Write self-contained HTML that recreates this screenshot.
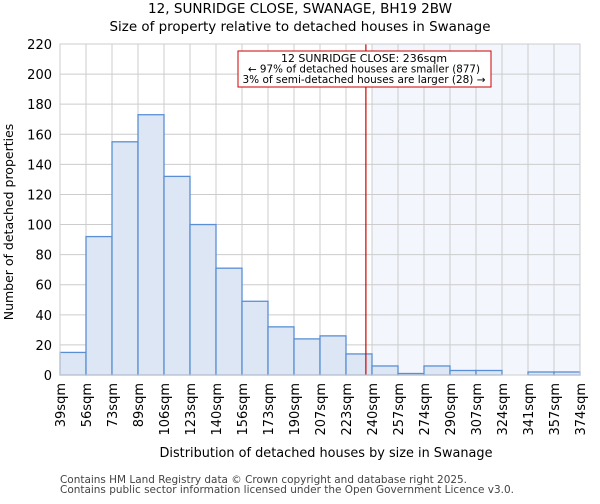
<!DOCTYPE html>
<html><head><meta charset="utf-8"><style>
body{margin:0;background:#fff;font-family:"DejaVu Sans","Liberation Sans",sans-serif}
</style></head><body>
<svg id="chart" width="600" height="500" xmlns="http://www.w3.org/2000/svg" font-family="DejaVu Sans, Liberation Sans, sans-serif">
<text x="300" y="13" text-anchor="middle" font-size="13.3" textLength="304" lengthAdjust="spacingAndGlyphs">12, SUNRIDGE CLOSE, SWANAGE, BH19 2BW</text>
<text x="300" y="31" text-anchor="middle" font-size="13.3" textLength="381" lengthAdjust="spacingAndGlyphs">Size of property relative to detached houses in Swanage</text>
<g id="plot"></g>
<text x="326" y="457" text-anchor="middle" font-size="13.5" textLength="333" lengthAdjust="spacingAndGlyphs">Distribution of detached houses by size in Swanage</text>
<text transform="translate(13,222) rotate(-90)" text-anchor="middle" font-size="12.5">Number of detached properties</text>
<text x="60" y="483" font-size="10.5" fill="#444" textLength="407" lengthAdjust="spacingAndGlyphs">Contains HM Land Registry data © Crown copyright and database right 2025.</text>
<text x="60" y="493" font-size="10.5" fill="#444" textLength="454" lengthAdjust="spacingAndGlyphs">Contains public sector information licensed under the Open Government Licence v3.0.</text>
</svg>
<script>
const categories=["39sqm","56sqm","73sqm","89sqm","106sqm","123sqm","140sqm","156sqm","173sqm","190sqm","207sqm","223sqm","240sqm","257sqm","274sqm","290sqm","307sqm","324sqm","341sqm","357sqm","374sqm"];
const counts=[15,92,155,173,132,100,71,49,32,24,26,14,6,1,6,3,3,0,2,2];
const yTicks=[0,20,40,60,80,100,120,140,160,180,200,220];
const edges=[39,56,73,89,106,123,140,156,173,190,207,223,240,257,274,290,307,324,341,357,374];
const propertySize=236;
const L=60,R=580,T=44,B=375,yMax=220;
const NS="http://www.w3.org/2000/svg";
const g=document.getElementById('plot');
const n=counts.length,bw=(R-L)/n;
const xi=i=>L+i*bw;
const y=v=>B-(v/yMax)*(B-T);
function xv(v){for(let i=0;i<edges.length-1;i++){if(v>=edges[i]&&v<=edges[i+1])return xi(i)+(v-edges[i])/(edges[i+1]-edges[i])*bw;}return R;}
function mk(t,a){const e=document.createElementNS(NS,t);for(const k in a)e.setAttribute(k,a[k]);g.appendChild(e);return e;}
const px=xv(propertySize);
const shadeStart=xi(Math.ceil((px-L)/bw));
let e=mk('rect',{x:shadeStart,y:T,width:R-shadeStart,height:B-T,fill:'#f3f6fd'});


yTicks.forEach(t=>{
 let l=mk('line',{x1:L,x2:R,y1:y(t),y2:y(t),stroke:'#cccccc','stroke-width':1});
 
 
 let tx=mk('text',{x:L-8,y:y(t)+5,'text-anchor':'end','font-size':13});
 tx.textContent=t;
 
 
});
categories.forEach((c,i)=>{
 let l=mk('line',{x1:xi(i),x2:xi(i),y1:T,y2:B,stroke:'#cccccc','stroke-width':1});
 
 
 let tx=mk('text',{transform:`translate(${xi(i)+5},${B+8}) rotate(-90)`,'text-anchor':'end','font-size':13});
 tx.textContent=c;
 
 
});
counts.forEach((v,i)=>{
 let r=mk('rect',{x:xi(i),y:y(v),width:bw,height:B-y(v),fill:'#dce6f4',stroke:'#5a8fd6','stroke-width':1.3});
 
 
});
let rl=mk('line',{x1:px,x2:px,y1:T,y2:B,stroke:'#d00000','stroke-width':1.2});


let bx=mk('rect',{x:238,y:51,width:253,height:36,fill:'#fff',stroke:'#cc0000','stroke-width':1});


const annLens=[166,232,243];
["12 SUNRIDGE CLOSE: 236sqm","← 97% of detached houses are smaller (877)","3% of semi-detached houses are larger (28) →"].forEach((s,i)=>{
 let t=mk('text',{x:364,y:62+i*10.5,'text-anchor':'middle','font-size':10.3,textLength:annLens[i],lengthAdjust:'spacingAndGlyphs'});
 t.textContent=s;
 
 
});
let fr=mk('rect',{x:L,y:T,width:R-L,height:B-T,fill:'none',stroke:'#cccccc'});


</script>
</body></html>
